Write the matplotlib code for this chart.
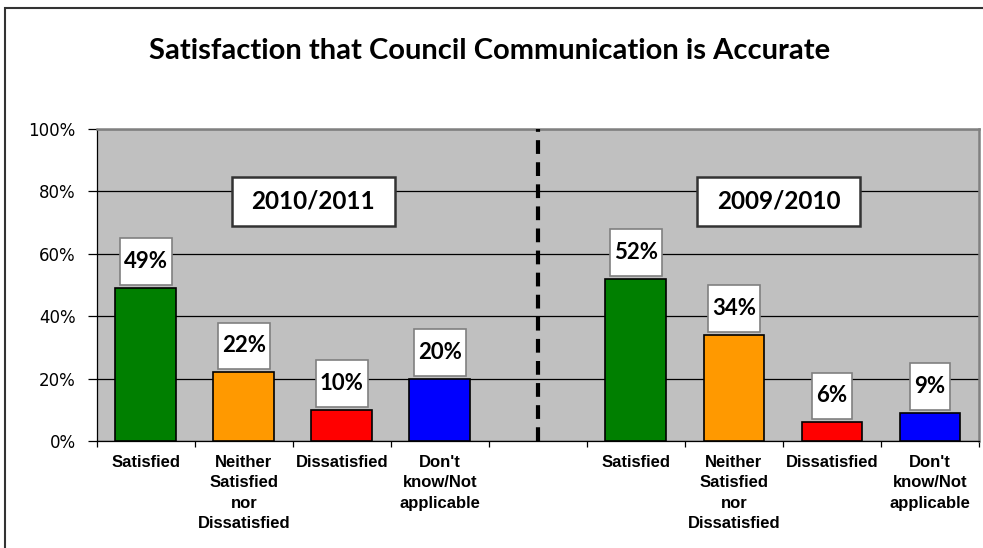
import numpy as np
import matplotlib.pyplot as plt
from matplotlib.path import Path
from matplotlib.patches import Rectangle

# survey results, percent of respondents
categories = ["Satisfied", "Neither\nSatisfied\nnor\nDissatisfied",
              "Dissatisfied", "Don't\nknow/Not\napplicable"]
values_2011 = [49, 22, 10, 20]
values_2010 = [52, 34, 6, 9]
periods = ["2010/2011", "2009/2010"]
bar_colors = ["#007F00", "#FF9900", "#FF0000", "#0000FF"]
yticks = [0, 20, 40, 60, 80, 100]


def fixed_box(pad_x, height):
    # box with horizontal padding and a fixed total height (both in font-size units)
    def style(x0, y0, width, h, mutation_size):
        px = pad_x * mutation_size
        hh = height * mutation_size
        cy = y0 + h / 2
        x1, x2 = x0 - px, x0 + width + px
        y1, y2 = cy - hh / 2, cy + hh / 2
        return Path([(x1, y1), (x2, y1), (x2, y2), (x1, y2), (x1, y1)], closed=True)
    return style


fig = plt.figure(figsize=(9.83, 5.48), dpi=100)
ax = fig.add_axes([96.7 / 983, 107 / 548, 882.3 / 983, 312 / 548])
ax.set_facecolor("#C0C0C0")

x_left = np.arange(4)
x_right = np.arange(5, 9)
ax.bar(x_left, values_2011, width=0.62, color=bar_colors, edgecolor="black", linewidth=1.2, zorder=3)
ax.bar(x_right, values_2010, width=0.62, color=bar_colors, edgecolor="black", linewidth=1.2, zorder=3)

# value labels above each bar
for xs, vals in ((x_left, values_2011), (x_right, values_2010)):
    for x, v in zip(xs, vals):
        ax.annotate(f"{v}%", xy=(x, v), xytext=(0, 19), textcoords="offset points",
                    ha="center", va="center", fontsize=16, fontweight="bold",
                    family="Lato", zorder=5,
                    bbox=dict(boxstyle=fixed_box(0.18, 2.1), fc="white", ec="#808080", lw=1.2))

# period labels
for x, label in zip((1.71, 6.455), periods):
    ax.text(x, 76.8, label, ha="center", va="center", fontsize=17.5, fontweight="bold",
            family="Lato", zorder=5,
            bbox=dict(boxstyle=fixed_box(0.8, 2.02), fc="white", ec="#333333", lw=1.8))

# divider between the two years
ax.plot([4, 4], [0, 100], color="black", lw=3, dashes=(3.3, 2), zorder=4)

ax.set_xlim(-0.5, 8.5)
ax.set_ylim(0, 100)
ax.set_yticks(yticks)
ax.set_yticklabels([f"{t}%" for t in yticks], fontsize=12, family="DejaVu Sans")
ax.yaxis.grid(True, color="black", lw=0.9, zorder=1)
ax.set_axisbelow(True)
ax.tick_params(axis="y", length=6.5, width=0.9, pad=8.5)

ax.set_xticks(list(x_left) + list(x_right))
ax.set_xticklabels(categories + categories, fontsize=12, fontweight="bold",
                   family="Liberation Sans", linespacing=1.45)
ax.set_xticks(np.arange(-0.5, 9, 1), minor=True)
ax.tick_params(axis="x", which="major", length=0, pad=10)
ax.tick_params(axis="x", which="minor", length=4, width=0.9)

for side in ("left", "bottom"):
    ax.spines[side].set_color("black")
    ax.spines[side].set_linewidth(0.9)
for side in ("top", "right"):
    ax.spines[side].set_color("#808080")
    ax.spines[side].set_linewidth(1.8)

fig.text(0.498, 0.907, "Satisfaction that Council Communication is Accurate",
         ha="center", va="center", fontsize=21, fontweight="bold", family="Lato")

# chart frame
fig.patches.append(Rectangle((5 / 983, -0.5), 2, 0.5 + 1 - 8 / 548, transform=fig.transFigure,
                             fill=False, ec="#333333", lw=1.5))

fig.savefig("out.png", dpi=100)
